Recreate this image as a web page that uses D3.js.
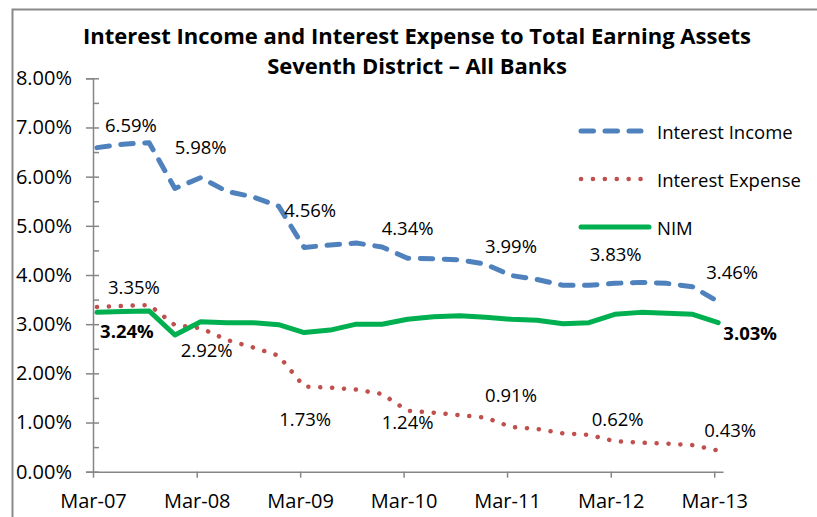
<!DOCTYPE html>
<html>
<head>
<meta charset="utf-8">
<script src="https://cdn.jsdelivr.net/npm/d3@7.9.0/dist/d3.min.js"></script>
<style>
  body { margin: 0; background: #fff; }
  svg { display: block; font-family: "Open Sans", sans-serif; }
</style>
</head>
<body>
<div id="chart"></div>
<script>
// quarterly data, Mar-07 .. Mar-13
const quarters = ["Mar-07","Jun-07","Sep-07","Dec-07","Mar-08","Jun-08","Sep-08","Dec-08",
  "Mar-09","Jun-09","Sep-09","Dec-09","Mar-10","Jun-10","Sep-10","Dec-10",
  "Mar-11","Jun-11","Sep-11","Dec-11","Mar-12","Jun-12","Sep-12","Dec-12","Mar-13"];
const interestIncome = [6.59, 6.66, 6.69, 5.76, 5.98, 5.70, 5.59, 5.40, 4.56, 4.61, 4.65, 4.57,
  4.34, 4.33, 4.31, 4.22, 3.99, 3.91, 3.79, 3.79, 3.83, 3.85, 3.83, 3.76, 3.46];
const interestExpense = [3.35, 3.37, 3.39, 2.98, 2.92, 2.68, 2.53, 2.36, 1.73, 1.71, 1.67, 1.58,
  1.24, 1.20, 1.15, 1.10, 0.91, 0.87, 0.78, 0.75, 0.62, 0.59, 0.57, 0.54, 0.43];
const nim = [3.24, 3.26, 3.27, 2.78, 3.05, 3.03, 3.03, 2.99, 2.83, 2.88, 3.00, 3.00,
  3.10, 3.15, 3.17, 3.14, 3.10, 3.08, 3.01, 3.03, 3.20, 3.24, 3.22, 3.20, 3.03];
const yTicks = [0, 1, 2, 3, 4, 5, 6, 7, 8];
const xTickLabels = ["Mar-07","Mar-08","Mar-09","Mar-10","Mar-11","Mar-12","Mar-13"];
const labelIdx = [0, 4, 8, 12, 16, 20, 24];
const nimLabelIdx = [0, 24];

// label placement offsets (px from the point)
const incomeOff = [[34,-23],[0,-31],[6,-38],[0,-31],[0,-30],[1,-30],[14,-30]];
const expenseOff = [[37,-20],[6,21],[1,32],[0,11],[0,-32],[3,-23],[12,-21]];
const nimOff = [[30,18],[32,10]];

const parseQ = d3.timeParse("%b-%y");
const dates = quarters.map(q => { const d = parseQ(q); d.setDate(15); return d; });

const W = 817, H = 517;
const svg = d3.select("#chart").append("svg")
  .attr("width", W).attr("height", H);

// outer chart border (cropped at right/bottom)
svg.append("rect")
  .attr("x", 12.5).attr("y", 9.5)
  .attr("width", 900).attr("height", 600)
  .attr("fill", "none").attr("stroke", "#898989").attr("stroke-width", 2);

const x = d3.scaleTime()
  .domain([new Date(2007, 2, 1), new Date(2013, 3, 1)])
  .range([93, 723]);
const y = d3.scaleLinear().domain([0, 8]).range([471.7, 78.3]);

const axisColor = "#868686";

// y axis
const yAxis = svg.append("g")
  .attr("transform", "translate(93,0)")
  .call(d3.axisLeft(y).tickValues(yTicks).tickSize(7).tickPadding(14)
    .tickFormat(d => d.toFixed(2) + "%"));
// inner minor ticks
const yMinor = svg.append("g")
  .attr("transform", "translate(93,0)")
  .call(d3.axisRight(y).tickValues(d3.range(0, 8.01, 0.5)).tickSize(6).tickFormat(""));
yMinor.select(".domain").remove();

// x axis
const xAxis = svg.append("g")
  .attr("transform", `translate(0,${y(0)})`)
  .call(d3.axisBottom(x)
    .tickValues(xTickLabels.map(parseQ))
    .tickFormat(d3.timeFormat("%b-%y"))
    .tickSize(6).tickSizeOuter(0).tickPadding(16));

[yAxis, yMinor, xAxis].forEach(g => {
  g.selectAll("path, line").attr("stroke", axisColor).attr("stroke-width", 1.5);
  g.selectAll("text").attr("fill", "#000").attr("font-size", 20)
    .attr("font-family", "'Open Sans', sans-serif");
});

// lines
const series = [
  {name: "Interest Income", values: interestIncome, color: "#4F81BD", dash: "12.5 11.5", width: 5},
  {name: "Interest Expense", values: interestExpense, color: "#C0504D", dash: "0.1 11.8", width: 4.5},
  {name: "NIM", values: nim, color: "#00B050", dash: null, width: 5}
];

const line = d3.line()
  .x((d, i) => x(dates[i]))
  .y(d => y(d));

series.forEach(s => {
  svg.append("path")
    .datum(s.values)
    .attr("fill", "none")
    .attr("stroke", s.color)
    .attr("stroke-width", s.width)
    .attr("stroke-linecap", "round")
    .attr("stroke-linejoin", "round")
    .attr("stroke-dasharray", s.dash)
    .attr("d", line);
});

// data labels
function addLabels(values, idx, offs, bold) {
  idx.forEach((k, j) => {
    svg.append("text")
      .attr("x", x(dates[k]) + offs[j][0])
      .attr("y", y(values[k]) + offs[j][1])
      .attr("text-anchor", "middle")
      .attr("dominant-baseline", "central")
      .attr("font-size", 18.5)
      .attr("font-weight", bold ? "bold" : "normal")
      .text(values[k].toFixed(2) + "%");
  });
}
addLabels(interestIncome, labelIdx, incomeOff, false);
addLabels(interestExpense, labelIdx, expenseOff, false);
addLabels(nim, nimLabelIdx, nimOff, true);

// title
const title = svg.append("text")
  .attr("x", 417).attr("text-anchor", "middle")
  .attr("font-size", 22).attr("font-weight", "bold");
title.append("tspan").attr("x", 417).attr("y", 44).text("Interest Income and Interest Expense to Total Earning Assets");
title.append("tspan").attr("x", 417).attr("y", 74).text("Seventh District \u2013 All Banks");

// legend
const legend = svg.append("g").attr("transform", "translate(581,131)");
series.forEach((s, i) => {
  const g = legend.append("g").attr("transform", `translate(0,${i * 48})`);
  g.append("line")
    .attr("x1", 0).attr("x2", s.dash ? 60 : 68)
    .attr("stroke", s.color)
    .attr("stroke-width", s.width)
    .attr("stroke-linecap", "round")
    .attr("stroke-dasharray", s.dash);
  g.append("text")
    .attr("x", 76)
    .attr("dominant-baseline", "central")
    .attr("font-size", 18.5)
    .text(s.name);
});
</script>
</body>
</html>
